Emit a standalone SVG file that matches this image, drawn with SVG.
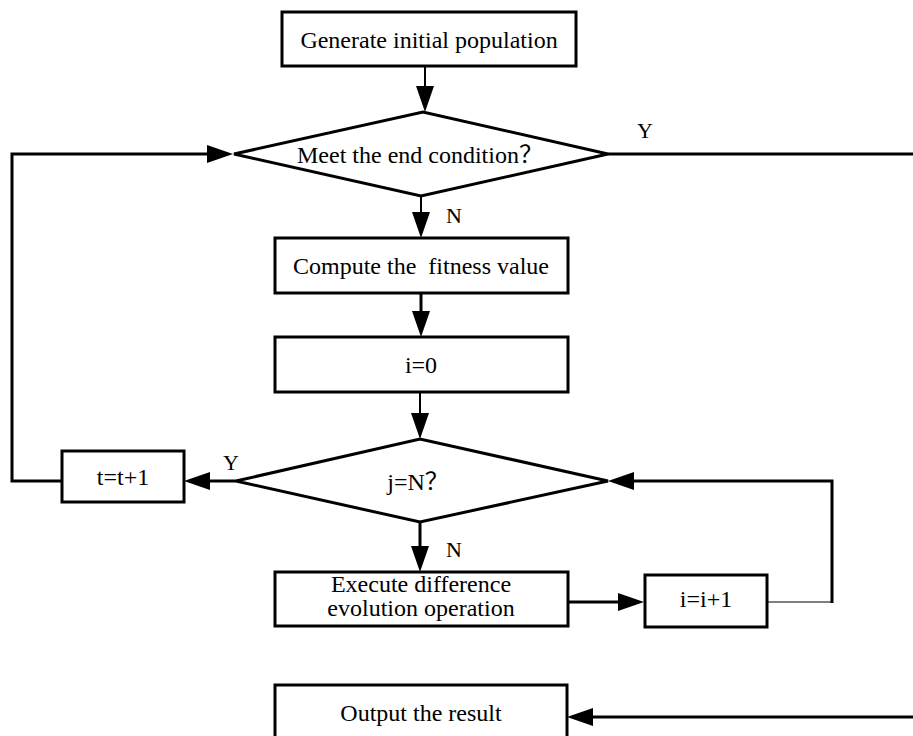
<svg xmlns="http://www.w3.org/2000/svg" width="913" height="736" viewBox="0 0 913 736">
<style>
.box{fill:#fff;stroke:#000;stroke-width:3}
.t{font-family:"Liberation Serif","Times New Roman","Noto Sans CJK SC",serif;font-size:24px;fill:#000;text-anchor:middle;white-space:pre}
.lbl{font-family:"Liberation Serif","Times New Roman",serif;font-size:22px;fill:#000}
.c{fill:none;stroke:#000;stroke-width:3}
.c2{fill:none;stroke:#000;stroke-width:2}
.c1{fill:none;stroke:#000;stroke-width:1.2}
</style>
<defs>
<marker id="ah" markerUnits="userSpaceOnUse" markerWidth="27" markerHeight="20" refX="0" refY="9" orient="auto" overflow="visible">
<path d="M0,0 L26,9 L0,18 z" fill="#000"/>
</marker>
</defs>
<rect width="913" height="736" fill="#fff"/>
<g id="connectors">
<path class="c2" d="M425,66 V86" marker-end="url(#ah)"/>
<path class="c" d="M608,154 H916 V717 H593" marker-end="url(#ah)"/>
<path class="c" d="M62,481 H12 V154 H207" marker-end="url(#ah)"/>
<path class="c2" d="M421,196 V212" marker-end="url(#ah)"/>
<path class="c" d="M421,293 V311" marker-end="url(#ah)"/>
<path class="c2" d="M420,392 V413" marker-end="url(#ah)"/>
<path class="c" d="M236,481 H210" marker-end="url(#ah)"/>
<path class="c" d="M420,522 V546" marker-end="url(#ah)"/>
<path class="c" d="M568,602 H618" marker-end="url(#ah)"/>
<path class="c1" d="M767,602 H832"/>
<path class="c" d="M832,603 V481 H634" marker-end="url(#ah)"/>
</g>
<g id="n1"><rect class="box" x="282" y="12" width="294" height="54"/><text class="t" x="429" y="48">Generate initial population</text></g>
<g id="n2"><polygon class="box" points="234,154 423,112 608,154 421,196"/><text class="t" x="420" y="163">Meet the end condition？</text></g>
<g id="n3"><rect class="box" x="275" y="238" width="293" height="55"/><text class="t" x="421" y="274">Compute the  fitness value</text></g>
<g id="n4"><rect class="box" x="275" y="337" width="293" height="55"/><text class="t" x="421" y="373">i=0</text></g>
<g id="n5"><polygon class="box" points="236,481 420,439 608,481 420,522"/><text class="t" x="418" y="490">j=N？</text></g>
<g id="n6"><rect class="box" x="62" y="451" width="122" height="51"/><text class="t" x="123" y="485">t=t+1</text></g>
<g id="n7"><rect class="box" x="275" y="572" width="293" height="54"/><text class="t" x="421" y="592">Execute difference</text><text class="t" x="421" y="616">evolution operation</text></g>
<g id="n8"><rect class="box" x="645" y="575" width="122" height="52"/><text class="t" x="706" y="607">i=i+1</text></g>
<g id="n9"><rect class="box" x="275" y="685" width="292" height="60"/><text class="t" x="421" y="721">Output the result</text></g>
<g id="labels">
<text class="lbl" x="637" y="138">Y</text>
<text class="lbl" x="446" y="223">N</text>
<text class="lbl" x="223" y="470">Y</text>
<text class="lbl" x="446" y="557">N</text>
</g>
</svg>
